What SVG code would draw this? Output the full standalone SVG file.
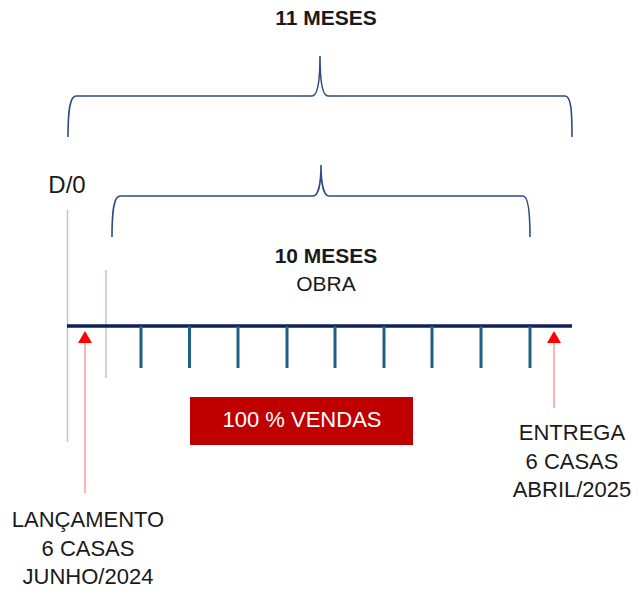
<svg xmlns="http://www.w3.org/2000/svg" width="638" height="591" viewBox="0 0 638 591">
<style>
.t{font-family:"Liberation Sans",Arial,sans-serif;fill:#1a1a1a;text-anchor:middle}
.b{font-weight:bold}
.brace{fill:none;stroke:#2f4a86;stroke-width:1.6}
.tick{stroke:#1f5f82;stroke-width:3}
.guide{stroke:#b7c9d6;stroke-width:1.5}
.pink{stroke:#ff9a9a;stroke-width:1.5}
</style>
<rect width="638" height="591" fill="#ffffff"/>
<g id="connectors">
<path class="brace" d="M68,137 C68,110 70,96 76,96 L312,96 C318,96 320,80 320,56 C320,80 322,96 328,96 L565,96 C571,96 572,110 572,137"/>
<path class="brace" d="M112,237 C112,210 114,196 120,196 L313,196 C319,196 321,180 321,165 C321,180 323,196 329,196 L523,196 C528,196 530,210 530,237"/>
<line class="guide" x1="67.5" y1="210" x2="67.5" y2="442"/>
<line class="guide" x1="106" y1="270" x2="106" y2="378"/>
<line x1="67" y1="326" x2="572" y2="326" stroke="#0e1f5a" stroke-width="3.5"/>
<g>
<line class="tick" x1="141" y1="326" x2="141" y2="368"/>
<line class="tick" x1="189.5" y1="326" x2="189.5" y2="368"/>
<line class="tick" x1="238" y1="326" x2="238" y2="368"/>
<line class="tick" x1="287" y1="326" x2="287" y2="368"/>
<line class="tick" x1="335" y1="326" x2="335" y2="368"/>
<line class="tick" x1="384" y1="326" x2="384" y2="368"/>
<line class="tick" x1="432" y1="326" x2="432" y2="368"/>
<line class="tick" x1="481" y1="326" x2="481" y2="368"/>
<line class="tick" x1="530" y1="326" x2="530" y2="368"/>
</g>
<line class="pink" x1="85" y1="342" x2="85" y2="493"/>
<polygon points="85,331 78,343 92,343" fill="#ff0000"/>
<line class="pink" x1="554" y1="342" x2="554" y2="408"/>
<polygon points="554,331 547,343 561,343" fill="#ff0000"/>
</g>
<g id="label-11meses"><text class="t b" x="326" y="25" font-size="21">11 MESES</text></g>
<g id="label-d0"><text class="t" x="67" y="193" font-size="24">D/0</text></g>
<g id="label-10meses"><text class="t b" x="326" y="263" font-size="21">10 MESES</text><text class="t" x="326" y="291" font-size="21">OBRA</text></g>
<g id="vendas"><rect x="190" y="397" width="223" height="48" fill="#c00000"/><text class="t" x="302" y="427" font-size="22" style="fill:#ffffff">100 % VENDAS</text></g>
<g id="lancamento"><text class="t" x="88" y="527" font-size="22">LANÇAMENTO</text><text class="t" x="88" y="556" font-size="22">6 CASAS</text><text class="t" x="88" y="584" font-size="22">JUNHO/2024</text></g>
<g id="entrega"><text class="t" x="572" y="440" font-size="22">ENTREGA</text><text class="t" x="572" y="469" font-size="22">6 CASAS</text><text class="t" x="572" y="497" font-size="22">ABRIL/2025</text></g>
</svg>
